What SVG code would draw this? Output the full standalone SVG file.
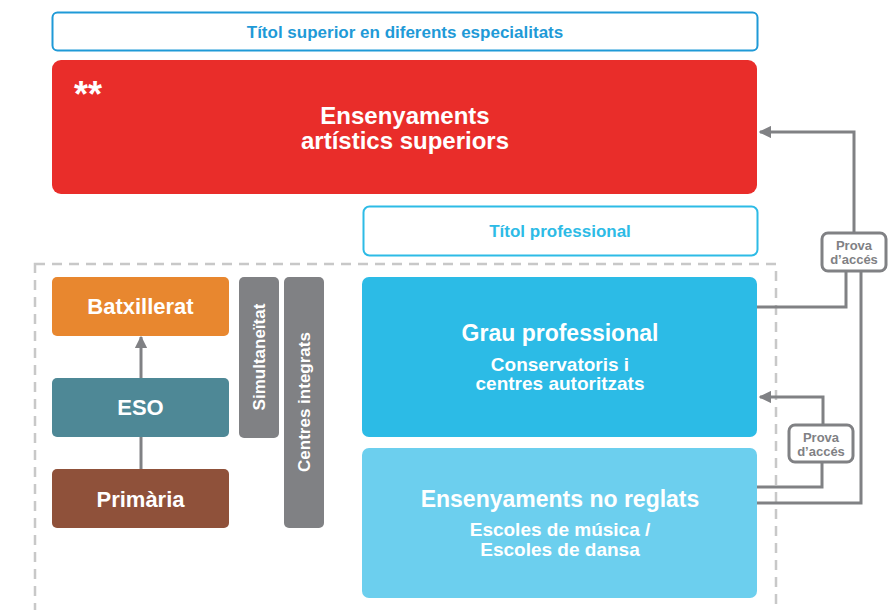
<svg xmlns="http://www.w3.org/2000/svg" width="892" height="610" viewBox="0 0 892 610">
<defs>
<style>
text{font-family:"Liberation Sans",Arial,sans-serif;font-weight:bold;text-anchor:middle}
.w{fill:#fff}
.c{stroke:#808184;stroke-width:3;fill:none}
.pb{fill:#fff;stroke:#808184;stroke-width:3}
.pt{fill:#808184;font-size:13px}
</style>
<marker id="ah" viewBox="0 0 10 10" refX="9" refY="5" markerWidth="4.2" markerHeight="4.2" orient="auto" markerUnits="strokeWidth"><path d="M0,0L10,5L0,10z" fill="#808184"/></marker>
</defs>
<rect width="892" height="610" fill="#fff"/>
<rect x="35" y="264" width="741" height="360" fill="none" stroke="#c8c8c8" stroke-width="2.5" stroke-dasharray="10,7"/>
<g id="titol-superior"><rect x="52.5" y="12.5" width="705" height="38" rx="5" fill="#fff" stroke="#1f9ad7" stroke-width="2"/><text x="405" y="37.5" font-size="17" fill="#1f9ad7">Títol superior en diferents especialitats</text></g>
<g id="superiors"><rect x="52" y="60" width="705" height="134" rx="9" fill="#e92d2a"/><text x="88" y="107" font-size="36" class="w">**</text><text x="405" y="124" font-size="24" class="w">Ensenyaments</text><text x="405" y="149" font-size="24" class="w">artístics superiors</text></g>
<g id="titol-professional"><rect x="363.5" y="206.5" width="394" height="49" rx="6" fill="#fff" stroke="#2dbbe6" stroke-width="2"/><text x="560" y="237" font-size="17" fill="#2dbbe6">Títol professional</text></g>
<g id="batxillerat"><rect x="52" y="277" width="177" height="59" rx="5" fill="#e8872f"/><text x="140.5" y="314" font-size="22" class="w">Batxillerat</text></g>
<g id="eso"><rect x="52" y="378" width="177" height="59" rx="5" fill="#4e8896"/><text x="140.5" y="415" font-size="22" class="w">ESO</text></g>
<g id="primaria"><rect x="52" y="469" width="177" height="59" rx="5" fill="#8f513a"/><text x="140.5" y="507" font-size="22" class="w">Primària</text></g>
<g id="simultaneitat"><rect x="239" y="277" width="40" height="161" rx="5" fill="#808184"/><text transform="translate(265,357) rotate(-90)" font-size="17" class="w">Simultaneïtat</text></g>
<g id="centres-integrats"><rect x="284" y="277" width="40" height="251" rx="5" fill="#808184"/><text transform="translate(310,402) rotate(-90)" font-size="17" class="w">Centres integrats</text></g>
<g id="grau-professional"><rect x="362" y="277" width="395" height="160" rx="7" fill="#2cbbe6"/><text x="560" y="341" font-size="23" class="w">Grau professional</text><text x="560" y="371" font-size="19" class="w">Conservatoris i</text><text x="560" y="390" font-size="19" class="w">centres autoritzats</text></g>
<g id="no-reglats"><rect x="362" y="448" width="395" height="150" rx="7" fill="#6ccfee"/><text x="560" y="507" font-size="23" class="w">Ensenyaments no reglats</text><text x="560" y="536" font-size="19" class="w">Escoles de música /</text><text x="560" y="556" font-size="19" class="w">Escoles de dansa</text></g>
<g id="connectors">
<path class="c" d="M141,469V437"/>
<path class="c" d="M141,378V337" marker-end="url(#ah)"/>
<path class="c" d="M757,307H846V271"/>
<path class="c" d="M757,503H861V271"/>
<path class="c" d="M854,233V132H760" marker-end="url(#ah)"/>
<path class="c" d="M757,487H822V462"/>
<path class="c" d="M823,425V397H760" marker-end="url(#ah)"/>
</g>
<g id="prova1"><rect x="822" y="233" width="64" height="38" rx="6" class="pb"/><text x="854" y="250" class="pt">Prova</text><text x="854" y="264" class="pt">d’accés</text></g>
<g id="prova2"><rect x="789" y="425" width="64" height="37" rx="6" class="pb"/><text x="821" y="442" class="pt">Prova</text><text x="821" y="456" class="pt">d’accés</text></g>
</svg>
